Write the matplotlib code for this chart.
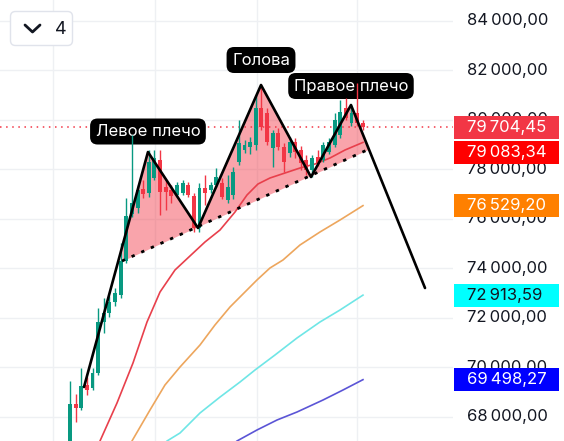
import numpy as np
import matplotlib
matplotlib.use('Agg')
import matplotlib.pyplot as plt
from matplotlib import transforms
from matplotlib.patches import FancyBboxPatch, Rectangle
from matplotlib.lines import Line2D

plt.rcParams['font.family'] = ['Inter', 'DejaVu Sans']

# ---------------- data ----------------
opens = [66700, 68515, 68353, 69283, 69161, 69767, 71828, 72192, 72636, 72900,
         74300, 76200, 76424, 77192, 77030, 77657, 78364, 77273, 77151, 76949,
         77030, 77353, 76908, 75616, 77232, 77151, 77353, 77434, 76747, 76950,
         78283, 78768, 78900, 78970, 80465, 80263, 78850, 79455, 78889, 78647,
         79091, 78768, 78364, 77960, 78485, 78364, 78687, 78970, 79374, 80465,
         79859, 80263, 79859]
highs = [69445, 68919, 69970, 69606, 69970, 72394, 72798, 72879, 73200, 75000,
         76850, 79380, 77353, 77555, 78768, 78768, 78768, 77555, 77353, 77474,
         77555, 77474, 77030, 77434, 77757, 77474, 78040, 77636, 77757, 78100,
         79980, 79172, 79300, 80990, 81400, 80465, 79576, 79657, 79050, 79293,
         79253, 78930, 78566, 78566, 78768, 79091, 79253, 80263, 80788, 80868,
         80586, 81465, 79980]
lows = [66600, 67788, 68272, 68879, 69081, 69686, 71384, 72030, 72474, 72800,
        74200, 76050, 76222, 76828, 76874, 77555, 76141, 76343, 76626, 76874,
        76949, 76874, 75455, 75455, 76545, 77030, 77273, 76800, 76626, 76800,
        78162, 78647, 78600, 78768, 79576, 78970, 78081, 78768, 77879, 78485,
        78445, 77960, 77757, 77676, 78122, 78283, 78606, 78889, 79253, 79980,
        79738, 79738, 79576]
closes = [68515, 68353, 69242, 69081, 69767, 71828, 72192, 72636, 73000, 74300,
          76100, 76650, 77151, 76990, 78283, 78465, 77070, 77070, 76908, 77353,
          77434, 76949, 75616, 77232, 77030, 77353, 77676, 76874, 77273, 77900,
          79050, 78970, 79100, 80465, 79697, 79091, 79455, 78889, 78283, 79091,
          78687, 78243, 77960, 78445, 78243, 78970, 79091, 79980, 80303, 80061,
          80263, 79859, 79704.45]

# head & shoulders pattern pivots (bar index, price)
pattern_idx = [2.49, 13.85, 22.74, 33.93, 42.81, 49.91, 63.06]
pattern_price = [69201, 78695, 75625, 81402, 77685, 80594, 73201]
neck_idx = [9.24, 53.06]
neck_price = [74292, 78805]
pattern_labels = ["Левое плечо", "Голова", "Правое плечо"]
pattern_label_pivot = [1, 3, 5]
pattern_label_offset = [20.5, 25, 19]

# moving averages (bar index, value)
ma_red_idx = [4.8, 5.33, 8.35, 11.19, 13.68, 15.99, 18.65, 21.31, 23.98, 26.64,
              29.31, 31.44, 33.39, 35.52, 38.19, 40.85, 43.52, 46.18, 48.85, 52.04]
ma_red = [66575, 67020, 68555, 70171, 71827, 73039, 73928, 74494, 75060, 75544,
          76271, 76958, 77403, 77645, 77847, 78049, 78211, 78453, 78776, 79083.34]
ma_orange_idx = [10.3, 11.01, 14.21, 16.87, 19.54, 23.09, 25.75, 28.42, 31.08, 33.21,
                 35.52, 37.83, 40.85, 44.4, 47.96, 52.04]
ma_orange = [66575, 67020, 68272, 69282, 70009, 70898, 71706, 72433, 73039, 73524,
             74009, 74332, 74938, 75463, 75948, 76529.20]
ma_cyan_idx = [15.63, 17.23, 19.54, 23.09, 26.64, 30.2, 32.86, 36.41, 40.32, 44.4, 47.96, 52.04]
ma_cyan = [66656, 67020, 67343, 68151, 68794, 69403, 69888, 70494, 71181, 71827, 72312, 72913.59]
ma_blue_idx = [28.42, 29.66, 33.21, 36.77, 40.32, 44.94, 48.49, 52.04]
ma_blue = [66777, 67020, 67464, 67868, 68191, 68676, 69080, 69498.27]

last_price = 79704.45
price_tags = [79704.45, 79083.34, 76529.20, 72913.59, 69498.27]
tag_colors = ['#f23645', '#ff0000', '#ff8000', '#00ffff', '#0000ff']
tag_text_colors = ['white', 'white', 'white', '#131722', 'white']
yticks = [68000, 70000, 72000, 74000, 76000, 78000, 80000, 82000, 84000]
vgrid = [-3.02, 15.10, 33.21, 50.98]
interval_label = "4"

# ---------------- figure ----------------
W, H = 564, 441
fig = plt.figure(figsize=(W / 100, H / 100), dpi=100, facecolor='white')
ax = fig.add_axes([0, 0, 453 / W, 1])
ax.set_xlim(-12.43, 68.03)
ax.set_ylim(67020, 84836)
ax.axis('off')

pix = transforms.Affine2D().scale(1 / W, -1 / H).translate(0, 1) + fig.transFigure
blend = transforms.blended_transform_factory(pix, ax.transData)

grid_c = '#eef0f3'
for t in yticks:
    ax.axhline(t, color=grid_c, lw=1, zorder=0)
for v in vgrid:
    ax.axvline(v, color=grid_c, lw=1, zorder=0)

# moving averages
ax.plot(ma_blue_idx, ma_blue, color='#5b55d6', lw=1.2, zorder=1)
ax.plot(ma_cyan_idx, ma_cyan, color='#6fe6e6', lw=1.2, zorder=1)
ax.plot(ma_orange_idx, ma_orange, color='#eda65d', lw=1.2, zorder=1)

# pattern fill
xs = np.linspace(neck_idx[0], neck_idx[1], 300)
upper = np.interp(xs, pattern_idx, pattern_price)
lower = np.interp(xs, neck_idx, neck_price)
ax.fill_between(xs, lower, upper, color='#f23645', alpha=0.45, lw=0, zorder=2)

ax.plot(ma_red_idx, ma_red, color='#e8404c', lw=1.2, zorder=3)

# last price dotted line
ax.axhline(last_price, color='#f23645', lw=1.1, ls=(0, (1, 3)), zorder=3)

# pattern labels
for txt, piv, off in zip(pattern_labels, pattern_label_pivot, pattern_label_offset):
    ax.annotate(txt, xy=(pattern_idx[piv], pattern_price[piv]), xytext=(0, off),
                textcoords='offset pixels', ha='center', va='center', color='white',
                fontsize=12, zorder=4,
                bbox=dict(boxstyle='round,pad=0.33,rounding_size=0.45', fc='black', ec='none'))

# candles
idx = np.arange(len(opens))
o = np.array(opens); c = np.array(closes); hi = np.array(highs); lo = np.array(lows)
up = c >= o
cols = np.where(up, '#089981', '#f23645')
ax.vlines(idx, lo, hi, colors=cols, lw=1.0, zorder=5)
body_bottom = np.minimum(o, c)
body_h = np.maximum(np.abs(c - o), 45)
ax.bar(idx, body_h, bottom=body_bottom, width=0.7, color=cols, lw=0, zorder=5)

# pattern lines
ax.plot(pattern_idx, pattern_price, color='black', lw=1.9, zorder=6, solid_capstyle='round')
ax.plot(neck_idx, neck_price, color='black', lw=2.0, ls=(0, (1.2, 2.6)), zorder=6)

# right scale labels
for t in yticks:
    s = f"{t:,.2f}".replace(',', '\u2009').replace('.', ',')
    ax.text(467, t, s, transform=blend, ha='left', va='center', fontsize=12,
            color='#131722', zorder=7, clip_on=False)

dpp = (84836 - 67020) / H  # data units per pixel
step = 25 * dpp
half = 11.5 * dpp
prev = None
for val, fc, tc in zip(price_tags, tag_colors, tag_text_colors):
    yc = val if prev is None else min(val, prev - step)
    prev = yc
    r = Rectangle((454, yc - half), 105, 2 * half, transform=blend, fc=fc, ec='none',
                  zorder=8, clip_on=False)
    ax.add_artist(r)
    s = f"{val:,.2f}".replace(',', '\u2009').replace('.', ',')
    ax.text(467, yc, s, transform=blend, ha='left', va='center', fontsize=12,
            color=tc, zorder=9, clip_on=False)

# interval dropdown
box = FancyBboxPatch((10.5, 11.5), 62, 34, boxstyle='round,pad=0,rounding_size=5',
                     transform=pix, fc='white', ec='#e0e3eb', lw=1, zorder=10)
fig.add_artist(box)
fig.add_artist(Line2D([25, 32.5, 40], [25, 32, 25], transform=pix, color='#131722',
                      lw=2.0, solid_capstyle='round', solid_joinstyle='round', zorder=11))
fig.text(61 / W, 1 - 29 / H, interval_label, ha='center', va='center', fontsize=13,
         color='#131722', zorder=11)

fig.savefig('out.png', dpi=100, facecolor='white')
